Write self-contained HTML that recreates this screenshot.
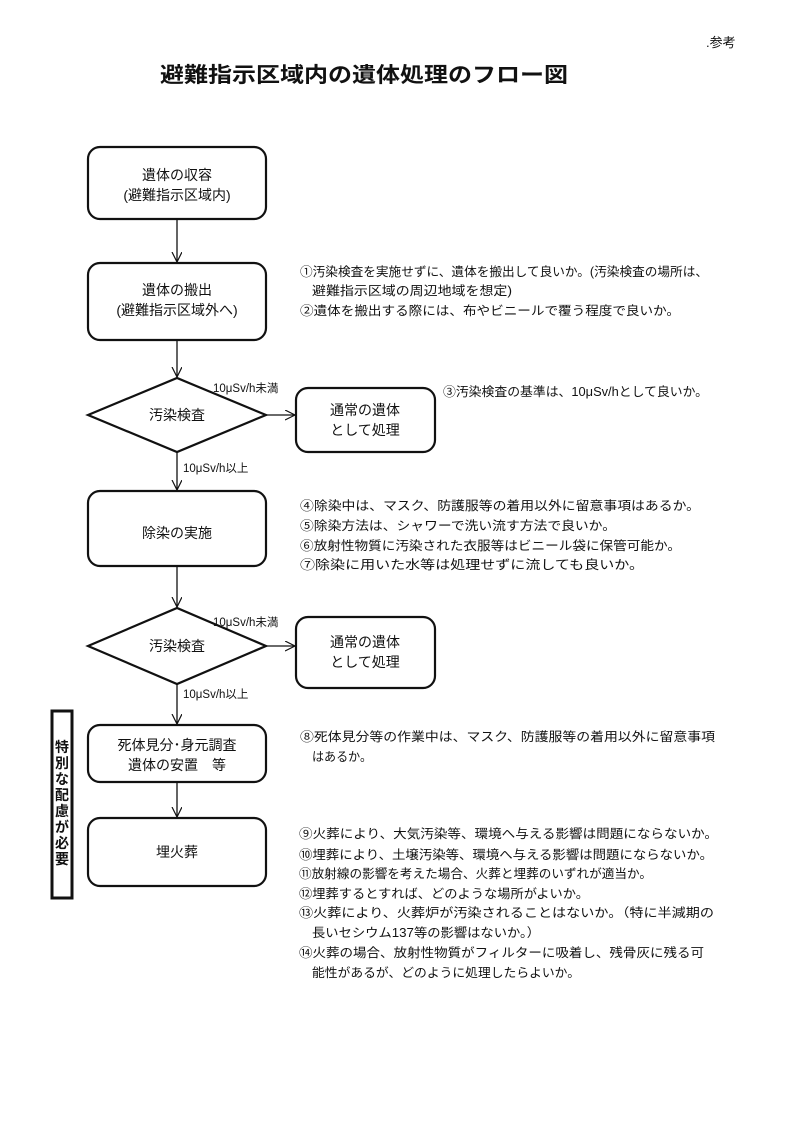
<!DOCTYPE html>
<html><head><meta charset="utf-8"><style>
html,body{margin:0;padding:0;background:#fff;}
svg{display:block;}
text{font-family:"Liberation Sans","Noto Sans CJK JP",sans-serif;fill:#111;}
.b{font-size:14px;text-anchor:middle;}
.r{font-size:12.5px;}
.l{font-size:11.5px;}
</style></head><body>
<svg width="810" height="1144" viewBox="0 0 810 1144" xmlns="http://www.w3.org/2000/svg">
<defs><marker id="a" markerWidth="12" markerHeight="12" refX="10" refY="5" orient="auto" markerUnits="userSpaceOnUse"><path d="M0,0 L10,5 L0,10" fill="none" stroke="#111" stroke-width="1.2"/></marker></defs>
<text x="706" y="47" style="font-size:13px">.参考</text>
<text x="160" y="82" style="font-size:21px;font-weight:bold" textLength="408" lengthAdjust="spacingAndGlyphs">避難指示区域内の遺体処理のフロー図</text>
<g fill="none" stroke="#111" stroke-width="2.2">
<rect x="88" y="147" width="178" height="72" rx="12"/>
<rect x="88" y="263" width="178" height="77" rx="12"/>
<polygon points="88,415 177,378 266,415 177,452"/>
<rect x="296" y="388" width="139" height="64" rx="12"/>
<rect x="88" y="491" width="178" height="75" rx="12"/>
<polygon points="88,646 177,608 266,646 177,684"/>
<rect x="296" y="617" width="139" height="71" rx="12"/>
<rect x="88" y="725" width="178" height="57" rx="12"/>
<rect x="88" y="818" width="178" height="68" rx="12"/>
<rect x="52" y="711" width="20" height="187" stroke-width="3"/>
</g>
<g stroke="#111" stroke-width="1.3" marker-end="url(#a)">
<line x1="177" y1="219" x2="177" y2="262"/>
<line x1="177" y1="340" x2="177" y2="377"/>
<line x1="266" y1="415" x2="295" y2="415"/>
<line x1="177" y1="452" x2="177" y2="490"/>
<line x1="177" y1="566" x2="177" y2="607"/>
<line x1="266" y1="646" x2="295" y2="646"/>
<line x1="177" y1="684" x2="177" y2="724"/>
<line x1="177" y1="782" x2="177" y2="817"/>
</g>
<text class="b" x="177" y="180">遺体の収容</text>
<text class="b" x="177" y="200">(避難指示区域内)</text>
<text class="b" x="177" y="295">遺体の搬出</text>
<text class="b" x="177" y="315">(避難指示区域外へ)</text>
<text class="b" x="177" y="420">汚染検査</text>
<text class="b" x="365" y="415">通常の遺体</text>
<text class="b" x="365" y="435">として処理</text>
<text class="l" x="213" y="392">10μSv/h未満</text>
<text class="l" x="183" y="472">10μSv/h以上</text>
<text class="b" x="177" y="538">除染の実施</text>
<text class="b" x="177" y="651">汚染検査</text>
<text class="b" x="365" y="647">通常の遺体</text>
<text class="b" x="365" y="667">として処理</text>
<text class="l" x="213" y="626">10μSv/h未満</text>
<text class="l" x="183" y="698">10μSv/h以上</text>
<text class="b" x="177" y="750">死体見分･身元調査</text>
<text class="b" x="177" y="770">遺体の安置　等</text>
<text class="b" x="177" y="857">埋火葬</text>
<g style="font-size:14px;font-weight:bold" text-anchor="middle">
<text x="62" y="752">特</text><text x="62" y="768">別</text><text x="62" y="784">な</text><text x="62" y="800">配</text><text x="62" y="816">慮</text><text x="62" y="832">が</text><text x="62" y="848">必</text><text x="62" y="864">要</text>
</g>
<text class="r" x="300" y="276" textLength="408" lengthAdjust="spacingAndGlyphs">①汚染検査を実施せずに、遺体を搬出して良いか。(汚染検査の場所は、</text>
<text class="r" x="312" y="295" textLength="200" lengthAdjust="spacingAndGlyphs">避難指示区域の周辺地域を想定)</text>
<text class="r" x="300" y="315" textLength="380" lengthAdjust="spacingAndGlyphs">②遺体を搬出する際には、布やビニールで覆う程度で良いか。</text>
<text class="r" x="443" y="396" textLength="265" lengthAdjust="spacingAndGlyphs">③汚染検査の基準は、10μSv/hとして良いか。</text>
<text class="r" x="300" y="510" textLength="400" lengthAdjust="spacingAndGlyphs">④除染中は、マスク、防護服等の着用以外に留意事項はあるか。</text>
<text class="r" x="300" y="530" textLength="316" lengthAdjust="spacingAndGlyphs">⑤除染方法は、シャワーで洗い流す方法で良いか。</text>
<text class="r" x="300" y="550" textLength="381" lengthAdjust="spacingAndGlyphs">⑥放射性物質に汚染された衣服等はビニール袋に保管可能か。</text>
<text class="r" x="300" y="569" textLength="344" lengthAdjust="spacingAndGlyphs">⑦除染に用いた水等は処理せずに流しても良いか。</text>
<text class="r" x="300" y="741" textLength="415" lengthAdjust="spacingAndGlyphs">⑧死体見分等の作業中は、マスク、防護服等の着用以外に留意事項</text>
<text class="r" x="312" y="761" textLength="60" lengthAdjust="spacingAndGlyphs">はあるか。</text>
<text class="r" x="299" y="838" textLength="419" lengthAdjust="spacingAndGlyphs">⑨火葬により、大気汚染等、環境へ与える影響は問題にならないか。</text>
<text class="r" x="299" y="859" textLength="414" lengthAdjust="spacingAndGlyphs">⑩埋葬により、土壌汚染等、環境へ与える影響は問題にならないか。</text>
<text class="r" x="299" y="878" textLength="353" lengthAdjust="spacingAndGlyphs">⑪放射線の影響を考えた場合、火葬と埋葬のいずれが適当か。</text>
<text class="r" x="299" y="898" textLength="290" lengthAdjust="spacingAndGlyphs">⑫埋葬するとすれば、どのような場所がよいか。</text>
<text class="r" x="299" y="917" textLength="415" lengthAdjust="spacingAndGlyphs">⑬火葬により、火葬炉が汚染されることはないか。（特に半減期の</text>
<text class="r" x="312" y="937" textLength="228" lengthAdjust="spacingAndGlyphs">長いセシウム137等の影響はないか。）</text>
<text class="r" x="299" y="957" textLength="405" lengthAdjust="spacingAndGlyphs">⑭火葬の場合、放射性物質がフィルターに吸着し、残骨灰に残る可</text>
<text class="r" x="312" y="977" textLength="268" lengthAdjust="spacingAndGlyphs">能性があるが、どのように処理したらよいか。</text>
</svg>
</body></html>
